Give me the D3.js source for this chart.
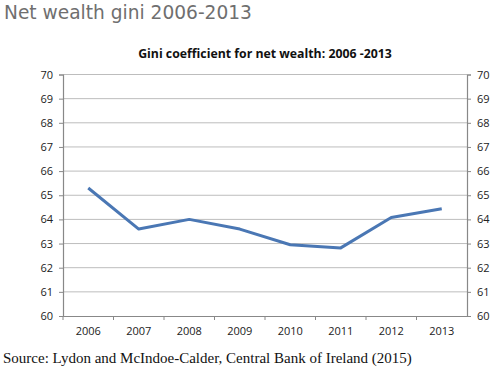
<!DOCTYPE html>
<html>
<head>
<meta charset="utf-8">
<script src="https://cdn.jsdelivr.net/npm/d3@7"></script>
<style>
  body { margin: 0; background: #fff; }
  svg text { font-family: "Open Sans", "Liberation Sans", sans-serif; }
</style>
</head>
<body>
<div class="chart"></div>
<script>
const years = ["2006", "2007", "2008", "2009", "2010", "2011", "2012", "2013"];
const gini = [65.3, 63.6, 64.0, 63.6, 62.95, 62.82, 64.08, 64.44];
const yTicks = [60, 61, 62, 63, 64, 65, 66, 67, 68, 69, 70];

const width = 497, height = 372;
const margin = { top: 74.5, right: 30, bottom: 56, left: 63 };

const svg = d3.select(".chart").append("svg")
    .attr("width", width)
    .attr("height", height);

const x = d3.scaleBand()
    .domain(years)
    .range([margin.left, width - margin.right]);

const y = d3.scaleLinear()
    .domain([60, 70])
    .range([height - margin.bottom, margin.top]);

// page title
svg.append("text")
    .text("Net wealth gini 2006-2013")
    .attr("x", 4)
    .attr("y", 19)
    .style("font-family", "DejaVu Sans, sans-serif")
    .style("font-size", "18.6px")
    .style("fill", "#6f6f6f");

// chart title
svg.append("text")
    .text("Gini coefficient for net wealth: 2006 -2013")
    .attr("x", 265)
    .attr("y", 58)
    .attr("text-anchor", "middle")
    .style("font-size", "12.3px")
    .style("font-weight", "bold")
    .style("fill", "#111");

// gridlines
svg.append("g")
    .selectAll("line")
    .data(yTicks.slice(1))
    .enter()
    .append("line")
    .attr("x1", margin.left)
    .attr("x2", width - margin.right)
    .attr("y1", d => y(d))
    .attr("y2", d => y(d))
    .style("stroke", "#bdbdbd")
    .style("stroke-width", 1);

const leftAxis = d3.axisLeft(y).tickValues(yTicks).tickSize(4).tickPadding(6);
const rightAxis = d3.axisRight(y).tickValues(yTicks).tickSize(4).tickPadding(6);

const la = svg.append("g")
    .attr("transform", `translate(${margin.left},0)`)
    .call(leftAxis);
const ra = svg.append("g")
    .attr("transform", `translate(${width - margin.right},0)`)
    .call(rightAxis);

const xAxis = d3.axisBottom(x).tickSize(0).tickPadding(11);
const xa = svg.append("g")
    .attr("transform", `translate(0,${y(60)})`)
    .call(xAxis);

// tick marks at category boundaries
xa.selectAll(".bound")
    .data(years)
    .enter()
    .append("line")
    .attr("x1", d => x(d))
    .attr("x2", d => x(d))
    .attr("y1", 0)
    .attr("y2", 4)
    .style("stroke", "#888");

[la, ra, xa].forEach(g => {
    g.selectAll(".domain").attr("stroke", "#888").attr("stroke-width", 1.2);
    g.selectAll(".tick line").attr("stroke", "#888");
    g.selectAll("text")
        .style("font-family", "Open Sans, sans-serif")
        .style("font-size", "11px")
        .style("fill", "#222");
});

const line = d3.line()
    .x((d, i) => x(years[i]) + x.bandwidth() / 2)
    .y(d => y(d));

svg.append("path")
    .datum(gini)
    .attr("fill", "none")
    .attr("stroke", "#4a77b4")
    .attr("stroke-width", 3)
    .attr("stroke-linejoin", "round")
    .attr("d", line);

// source
svg.append("text")
    .text("Source: Lydon and McIndoe-Calder, Central Bank of Ireland (2015)")
    .attr("x", 3)
    .attr("y", 363)
    .style("font-family", "Liberation Serif, serif")
    .style("font-size", "15px")
    .style("fill", "#111");
</script>
</body>
</html>
